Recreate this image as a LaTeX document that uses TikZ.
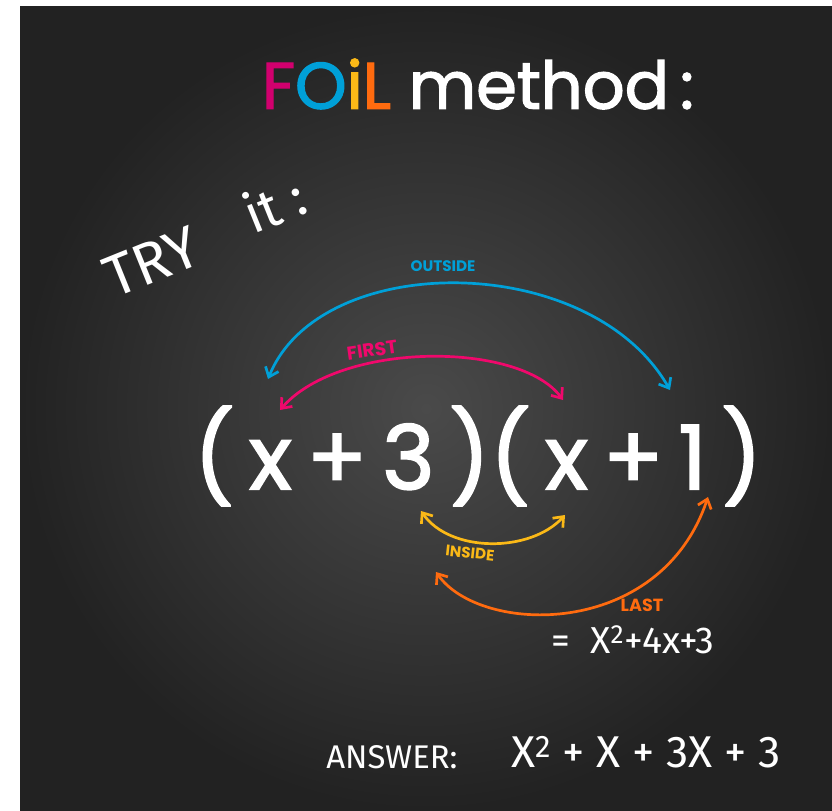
\documentclass[tikz,border=0pt]{standalone}
\usepackage{fontspec}
\setmainfont{Poppins}
\newfontfamily\chalk{Fira Sans}
\newfontfamily\marker{Poppins}[FakeBold=2]
\definecolor{boardDark}{HTML}{222222}
\definecolor{boardLight}{HTML}{4A4A4A}
\definecolor{foilPink}{HTML}{D1006E}
\definecolor{firstPink}{HTML}{F0086C}
\definecolor{foilBlue}{HTML}{00A0D8}
\definecolor{foilYellow}{HTML}{FBB917}
\definecolor{foilOrange}{HTML}{FF6B0F}
\usetikzlibrary{arrows.meta, positioning}

\begin{document}
\begin{tikzpicture}[x=0.03cm, y=-0.03cm,
  arc/.style={line width=2.3pt, line cap=round, {Straight Barb[length=2.6mm, width=4.2mm]}-{Straight Barb[length=2.6mm, width=4.2mm]}},
  tag/.style={font=\bfseries\fontsize{13}{13}\selectfont, inner sep=1pt},
  chalky/.style={text=white, font=\chalk\fontsize{32}{32}\selectfont, inner sep=0pt},
]
  \useasboundingbox (0,0) rectangle (832,811);
  \fill[white] (0,0) rectangle (832,811);
  \fill[boardDark] (20,6) rectangle (832,811);
  \shade[inner color=boardLight, outer color=boardDark] (20,6) rectangle (832,811);

  % title
  \node[font=\marker\fontsize{56}{56}\selectfont, inner sep=0pt] (title) at (478,84)
    {\textcolor{foilPink}{F}\textcolor{foilBlue}{O}\textcolor{foilYellow}{i}\textcolor{foilOrange}{L} \textcolor{white}{method\,:}};
  \node[chalky, font=\chalk\fontsize{50}{50}\selectfont, rotate=22] (try) at (152,262) {TRY};
  \node[chalky, font=\chalk\fontsize{46}{46}\selectfont, rotate=22] (tryit) at (274,204) {it :};

  % the product
  \node[text=white, font=\marker\fontsize{76}{76}\selectfont, inner sep=0pt] (prod) at (478,456) {(\,x\,+\,3\,)(\,x\,+\,1\,)};

  \coordinate (outA) at (268,379);
  \coordinate (outB) at (670,390);
  \coordinate (firA) at (280,410);
  \coordinate (firB) at (563,400);
  \coordinate (insA) at (421,511);
  \coordinate (insB) at (565,515);
  \coordinate (lasA) at (436,572);
  \coordinate (lasB) at (708,497);

  \draw[arc, foilBlue] (outA) .. controls (320,250) and (590,250) .. (outB);
  \draw[arc, firstPink] (firA) .. controls (340,341) and (520,341) .. (firB);
  \draw[arc, foilYellow] (insA) .. controls (450,553) and (530,553) .. (insB);
  \draw[arc, foilOrange] (lasA) .. controls (480,635) and (660,640) .. (lasB);

  \node[tag, text=foilBlue] (outside) at (443,266) {OUTSIDE};
  \node[tag, text=firstPink, font=\bfseries\fontsize{16}{16}\selectfont, rotate=8] (first) at (372,350) {FIRST};
  \node[tag, text=foilYellow, rotate=-6] (inside) at (470,553) {INSIDE};
  \node[tag, text=foilOrange, font=\bfseries\fontsize{15}{15}\selectfont] (last) at (642,605) {LAST};

  % results
  \node[chalky] (result) at (633,640) {=\ \ X\textsuperscript{2}+4x+3};
  \node[chalky, font=\chalk\fontsize{28}{28}\selectfont] (answord) at (392,757) {ANSWER:};
  \node[chalky, font=\chalk\fontsize{38}{38}\selectfont] (answer) at (646,752) {X\textsuperscript{2} + X + 3X + 3};
\end{tikzpicture}
\end{document}
